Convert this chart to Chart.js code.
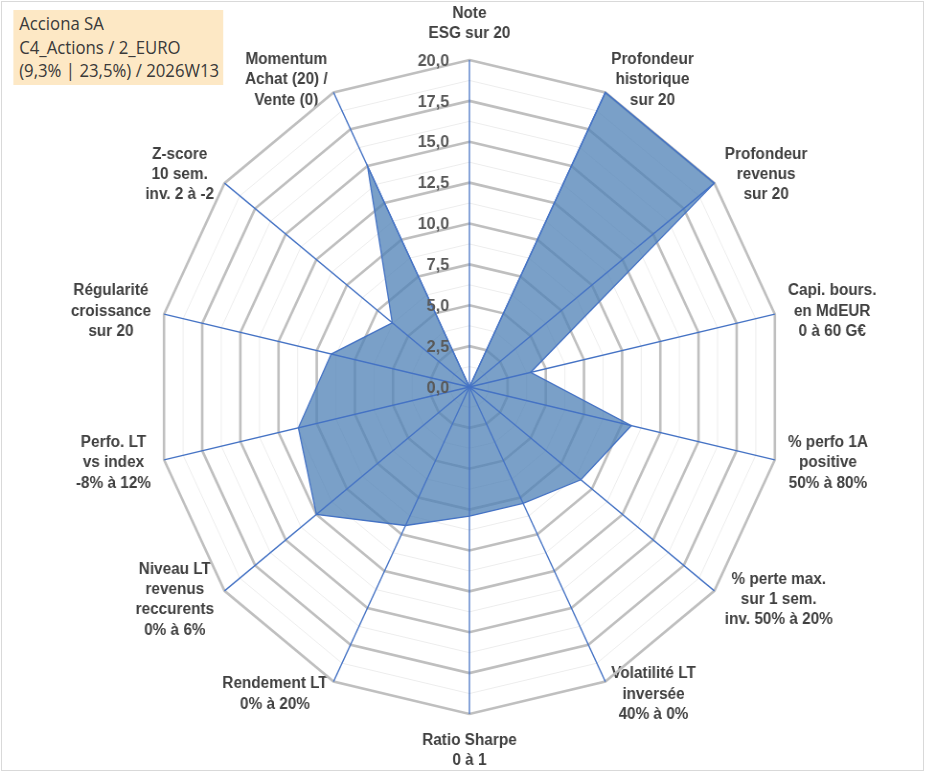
<!DOCTYPE html>
<html>
<head>
<meta charset="utf-8">
<script src="https://cdn.jsdelivr.net/npm/chart.js@4/dist/chart.umd.min.js"></script>
<style>
    html, body { margin: 0; padding: 0; background: #fff; overflow: hidden; }
    #frame { position: absolute; left: 1px; top: 1px; width: 921px; height: 768px; border: 1px solid #d9d9d9; }
    #wrap { position: absolute; left: 0; top: 0; width: 974px; height: 776px; transform: scaleX(0.958); transform-origin: 0 0; }
    #title { position: absolute; left: 14px; top: 10px; width: 213px; height: 73px; padding: 2px 0 0 6px;
             background: #fde8c5; color: #3a3a3a; font-family: "Open Sans", sans-serif; font-size: 17.5px; line-height: 23.5px; white-space: nowrap; }
    #chart { position: absolute; left: 0; top: 0; }
</style>
</head>
<body>
<div id="frame"></div>
<div id="wrap">
    <canvas id="chart" width="974" height="776"></canvas>
    <div id="title">Acciona SA<br>C4_Actions / 2_EURO<br>(9,3% | 23,5%) / 2026W13</div>
</div>
<script>
// axis names, one array per label (one string per line)
var criteria = [
    ['Note', 'ESG sur 20'],
    ['Profondeur', 'historique', 'sur 20'],
    ['Profondeur', 'revenus', 'sur 20'],
    ['Capi. bours.', 'en MdEUR', '0 à 60 G€'],
    ['% perfo 1A', 'positive', '50% à 80%'],
    ['% perte max.', 'sur 1 sem.', 'inv. 50% à 20%'],
    ['Volatilité LT', 'inversée', '40% à 0%'],
    ['Ratio Sharpe', '0 à 1'],
    ['Rendement LT', '0% à 20%'],
    ['Niveau LT', 'revenus', 'reccurents', '0% à 6%'],
    ['Perfo. LT', 'vs index', '-8% à 12%'],
    ['Régularité', 'croissance', 'sur 20'],
    ['Z-score', '10 sem.', 'inv. 2 à -2'],
    ['Momentum', 'Achat (20) /', 'Vente (0)']
];
var scores = [0, 20, 20, 4.0, 10.6, 9.1, 7.9, 7.9, 9.4, 12.5, 11.2, 9.05, 6.3, 15.0];
var scoreMin = 0;
var scoreMax = 20;
var majorStep = 2.5;
var minorStep = 1.25;

// layout of the plot (canvas units, before the horizontal squeeze)
var CX = 490, CY = 387, RADIUS = 327;
var LABEL_FONT = 'bold 16px "Liberation Sans", Arial, sans-serif';
var LINE_H = 20.3;
var SIDE_GAP = 14, END_GAP = 16;
var BLUE = '#4472c4';

function isMajor(v) {
    return Math.abs(v / majorStep - Math.round(v / majorStep)) < 1e-6;
}

function placeLabels(scale) {
    scale.xCenter = CX;
    scale.yCenter = CY;
    scale.drawingArea = RADIUS;
    var ctx = scale.ctx;
    ctx.save();
    ctx.font = LABEL_FONT;
    scale._pointLabelItems = scale._pointLabels.map(function (label, i) {
        var lines = [].concat(label);
        var end = scale.getPointPosition(i, RADIUS);
        var a = scale.getIndexAngle(i);
        var s = Math.sin(a), c = Math.cos(a);
        var w = Math.max.apply(null, lines.map(function (t) { return ctx.measureText(t).width; }));
        var h = lines.length * LINE_H;
        var x, y;
        if (Math.abs(s) < 0.01) {
            x = end.x;
            y = end.y - Math.sign(c) * (END_GAP + h / 2);
        } else {
            x = end.x + SIDE_GAP * s + Math.sign(s) * w / 2;
            y = end.y - SIDE_GAP * c;
        }
        var top = y - h / 2;
        return { visible: true, x: x, y: top, textAlign: 'center',
                 left: x - w / 2, top: top, right: x + w / 2, bottom: top + h };
    });
    ctx.restore();
}

var overlayPlugin = {
    id: 'overlay',
    afterDatasetsDraw: function (chart) {
        var ctx = chart.ctx;
        var scale = chart.scales.r;

        // spokes above the area
        ctx.save();
        ctx.strokeStyle = BLUE;
        ctx.lineWidth = 1.3;
        for (var i = 0; i < criteria.length; i++) {
            var p = scale.getPointPosition(i, scale.drawingArea);
            ctx.beginPath();
            ctx.moveTo(scale.xCenter, scale.yCenter);
            ctx.lineTo(p.x, p.y);
            ctx.stroke();
        }
        ctx.restore();

        // value labels left of the vertical spoke
        ctx.save();
        ctx.font = 'bold 17px "Liberation Sans", Arial, sans-serif';
        ctx.fillStyle = '#595959';
        ctx.textAlign = 'right';
        ctx.textBaseline = 'middle';
        scale.ticks.forEach(function (t) {
            if (!isMajor(t.value)) return;
            var y = scale.yCenter - scale.getDistanceFromCenterForValue(t.value);
            ctx.fillText(t.value.toFixed(1).replace('.', ','), scale.xCenter - 21, y + 1);
        });
        ctx.restore();
    }
};

new Chart(document.getElementById('chart'), {
    type: 'radar',
    data: {
        labels: criteria,
        datasets: [{
            data: scores,
            backgroundColor: 'rgba(79, 129, 182, 0.755)',
            borderColor: BLUE,
            borderWidth: 1.3,
            pointRadius: 0,
            fill: true,
            tension: 0
        }]
    },
    options: {
        responsive: false,
        animation: false,
        plugins: {
            legend: { display: false },
            tooltip: { enabled: false }
        },
        scales: {
            r: {
                min: scoreMin,
                max: scoreMax,
                afterFit: placeLabels,
                ticks: { display: false, stepSize: minorStep },
                angleLines: { display: false },
                grid: {
                    circular: false,
                    color: function (ctx) { return isMajor(ctx.tick.value) ? '#bfbfbf' : '#ededed'; },
                    lineWidth: function (ctx) { return isMajor(ctx.tick.value) ? 2.6 : 1; }
                },
                pointLabels: {
                    color: '#404040',
                    font: { family: '"Liberation Sans", Arial, sans-serif', size: 16, weight: 'bold', lineHeight: 1.27 }
                }
            }
        }
    },
    plugins: [overlayPlugin]
});
</script>
</body>
</html>
